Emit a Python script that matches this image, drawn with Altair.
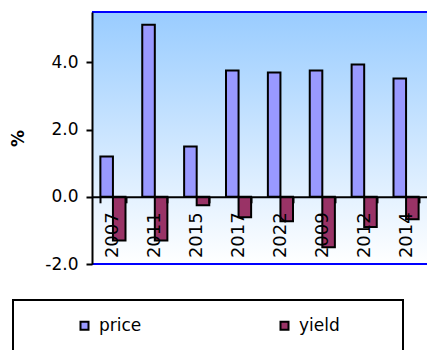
import altair as alt
import pandas as pd

# Bond data by maturity year: price change and yield change, in percent
years = ["2007", "2011", "2015", "2017", "2022", "2009", "2012", "2014"]
price = [1.2, 5.12, 1.5, 3.76, 3.7, 3.76, 3.94, 3.52]
yield_ = [-1.3, -1.3, -0.25, -0.61, -0.73, -1.5, -0.9, -0.67]
series = ["price", "yield"]
colors = ["#9999FF", "#993366"]

rows = []
for i, yr in enumerate(years):
    rows.append({"year": yr, "series": "price", "value": price[i]})
    rows.append({"year": yr, "series": "yield", "value": yield_[i]})
df = pd.DataFrame(rows)

W, H = 335, 252
Y_MIN, Y_MAX = -2.0, 5.5
FONT = "DejaVu Sans"

base = alt.Chart(df)

# Plot-area background fading from light blue to white
backdrop = base.mark_rect(
    color=alt.LinearGradient(
        gradient="linear",
        x1=0, x2=0, y1=0, y2=1,
        stops=[
            alt.GradientStop(color="#99CCFF", offset=0),
            alt.GradientStop(color="#FFFFFF", offset=1),
        ],
    )
).encode(x=alt.value(0), x2=alt.value(W), y=alt.value(0), y2=alt.value(H))

bars = base.mark_bar(stroke="black", strokeWidth=2).encode(
    x=alt.X(
        "year:N",
        sort=years,
        scale=alt.Scale(paddingInner=0.4, paddingOuter=0.2),
        axis=alt.Axis(
            title=None,
            labelAngle=270,
            tickBand="extent",
            tickSize=6,
            tickWidth=2,
            tickColor="black",
            domainColor="black",
            domainWidth=2,
            labelPadding=9,
            labelFontSize=18,
            labelFont=FONT,
            labelColor="black",
            offset=-H * (0 - Y_MIN) / (Y_MAX - Y_MIN),
            zindex=1,
        ),
    ),
    xOffset=alt.XOffset("series:N", sort=series, scale=alt.Scale(paddingInner=0, paddingOuter=0)),
    y=alt.Y(
        "value:Q",
        scale=alt.Scale(domain=[Y_MIN, Y_MAX], nice=False, zero=False),
        axis=alt.Axis(
            title="%",
            values=[-2, 0, 2, 4],
            labelExpr="(datum.value < 0 ? '-' : '') + format(abs(datum.value), '.1f')",
            grid=False,
            tickSize=6,
            tickWidth=2,
            tickColor="black",
            domainColor="black",
            domainWidth=2,
            labelPadding=8,
            labelFontSize=17,
            labelFont=FONT,
            labelColor="black",
            titleFont=FONT,
            titleFontSize=17,
            titleFontWeight="bold",
            titleColor="black",
            titlePadding=17,
            zindex=1,
        ),
    ),
    color=alt.Color(
        "series:N",
        sort=series,
        scale=alt.Scale(domain=series, range=colors),
        legend=alt.Legend(
            title=None,
            orient="none",
            legendX=-16,
            legendY=305,
            direction="horizontal",
            columns=2,
            columnPadding=134,
            symbolType="square",
            symbolSize=64,
            symbolStrokeColor="black",
            symbolStrokeWidth=2,
            labelFont=FONT,
            labelFontSize=17,
            labelColor="black",
            labelOffset=6,
            padding=0,
        ),
    ),
)

# Blue frame lines along the top and bottom of the plot area
top_line = base.mark_rule(color="#0000FF", strokeWidth=2).encode(
    x=alt.value(0), x2=alt.value(W), y=alt.value(0)
)
bottom_line = base.mark_rule(color="#0000FF", strokeWidth=2).encode(
    x=alt.value(0), x2=alt.value(W), y=alt.value(H)
)

# Border around the legend
legend_box = base.mark_rect(
    fill=None, stroke="black", strokeWidth=2, clip=False
).encode(
    x=alt.value(-79), x2=alt.value(311), y=alt.value(288), y2=alt.value(360)
)

chart = (
    alt.layer(backdrop, bars, top_line, bottom_line, legend_box)
    .properties(
        width=W,
        height=H,
        autosize=alt.AutoSizeParams(type="none"),
        padding={"left": 92, "top": 12, "right": 0, "bottom": 86},
    )
    .configure_view(stroke=None)
    .configure(background="white")
)

chart.save("out.html", embed_options={"renderer": "svg", "actions": False})
